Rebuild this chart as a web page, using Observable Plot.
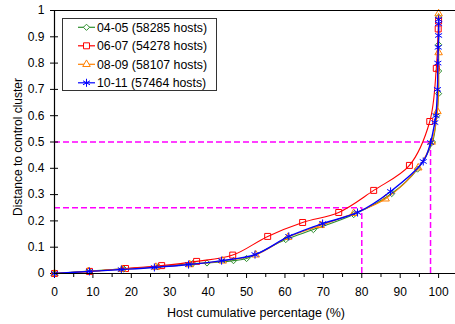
<!DOCTYPE html>
<html><head><meta charset="utf-8">
<script src="https://cdn.jsdelivr.net/npm/d3@7"></script>
<script src="https://cdn.jsdelivr.net/npm/@observablehq/plot@0.6"></script>
<style>body{margin:0;background:#fff;} svg{display:block;}</style>
</head><body><div id="chart"></div>
<script>
// ---- data ----
const seriesNames = ["04-05 (58285 hosts)", "06-07 (54278 hosts)", "08-09 (58107 hosts)", "10-11 (57464 hosts)"];
const seriesColors = ["#2f8f2f", "#ff0000", "#ff8000", "#0000ff"];
const seriesSymbols = ["diamond2", "square2", "triangle2", "asterisk"];
const seriesRadius = [2.8, 3.8, 3.6, 3.8];

const x0405 = [0, 9, 18, 27, 36, 39.7, 46.6, 50, 60.2, 67.4, 77.9, 87.8, 94.5, 98.4, 99.5, 100, 100, 100, 100];
const y0405 = [0, 0.009, 0.018, 0.026, 0.038, 0.040, 0.049, 0.057, 0.129, 0.167, 0.224, 0.304, 0.397, 0.50, 0.60, 0.684, 0.77, 0.87, 0.975];

const x0607 = [0, 9.1, 18.5, 27.9, 37, 46.4, 55.5, 64.6, 74, 83.1, 92.4, 97.7, 99.4, 99.9, 100];
const y0607 = [0, 0.008, 0.019, 0.030, 0.046, 0.070, 0.141, 0.194, 0.232, 0.316, 0.411, 0.578, 0.78, 0.93, 0.96];

const x0809 = [0, 8.8, 17.6, 26.4, 35.2, 43.8, 52.4, 60.8, 69.3, 77.9, 86.2, 94.7, 98.2, 99.7, 100, 100];
const y0809 = [0, 0.008, 0.016, 0.024, 0.034, 0.048, 0.071, 0.138, 0.183, 0.229, 0.284, 0.402, 0.50, 0.616, 0.84, 0.988];

const x1011 = [0, 9.1, 17.4, 26, 34.9, 43.5, 52.2, 61, 69.8, 78.9, 87.5, 96, 97.9, 99, 99.3, 99.7, 99.8, 99.9, 100, 100, 100];
const y1011 = [0, 0.008, 0.015, 0.023, 0.034, 0.049, 0.072, 0.141, 0.19, 0.232, 0.312, 0.426, 0.498, 0.574, 0.60, 0.70, 0.80, 0.86, 0.905, 0.95, 0.966];

const refX = [97.9, 80];
const refY = [0.5, 0.25];

const xTicks = [0, 10, 20, 30, 40, 50, 60, 70, 80, 90, 100];
const xMinorTicks = [5, 15, 25, 35, 45, 55, 65, 75, 85, 95];
const yTicks = [0, 0.1, 0.2, 0.3, 0.4, 0.5, 0.6, 0.7, 0.8, 0.9, 1];

const xLabel = "Host cumulative percentage (%)";
const yLabel = "Distance to control cluster";

// ---- build tables ----
const allX = [x0405, x0607, x0809, x1011];
const allY = [y0405, y0607, y0809, y1011];
const rows = [];
seriesNames.forEach((s, i) => allX[i].forEach((x, j) => rows.push({series: s, x, y: allY[i][j]})));
const refs = refX.map((x, i) => ({x, y: refY[i]}));

const font = "'Liberation Sans', Arial, sans-serif";
const magenta = "#ff00ff";

const seriesMarks = [];
seriesNames.forEach((s, i) => {
  const d = rows.filter(r => r.series === s);
  seriesMarks.push(Plot.line(d, {x: "x", y: "y", stroke: seriesColors[i], strokeWidth: i === 3 ? 1.4 : 1.1, curve: "catmull-rom"}));
  seriesMarks.push(Plot.dot(d, {x: "x", y: "y", symbol: seriesSymbols[i], r: seriesRadius[i], stroke: seriesColors[i], strokeWidth: 1, fill: "none"}));
});

const chart = Plot.plot({
  width: 455,
  height: 324,
  marginLeft: 54,
  marginRight: 0,
  marginTop: 10,
  marginBottom: 51,
  style: {fontFamily: font, fontSize: "12px", color: "black", background: "white", overflow: "visible"},
  x: {domain: [0, 104.4]},
  y: {domain: [0, 1]},
  marks: [
    Plot.ruleY(refs, {y: "y", x1: 0, x2: "x", stroke: magenta, strokeWidth: 1.5, strokeDasharray: "6,3"}),
    Plot.ruleX(refs, {x: "x", y1: 0, y2: "y", stroke: magenta, strokeWidth: 1.5, strokeDasharray: "6,3"}),
    Plot.axisY({ticks: yTicks, tickSize: 8, dx: 4, tickPadding: 6, tickFormat: d => String(d), label: null, stroke: "black", fill: "black"}),
    Plot.axisX({ticks: xTicks, tickSize: 5, tickPadding: 9, tickFormat: d => String(d), label: null, stroke: "black", fill: "black"}),
    Plot.axisX({ticks: xMinorTicks, tickSize: 4, tickFormat: () => "", label: null, stroke: "black"}),
    ...seriesMarks,
    Plot.ruleX([0], {stroke: "black", strokeWidth: 1.2}),
    Plot.ruleY([0], {stroke: "black", strokeWidth: 1.2}),
    Plot.ruleY([1], {stroke: "black", strokeWidth: 1.2})
  ]
});
document.getElementById("chart").appendChild(chart);

// ---- axis titles and legend ----
const svg = d3.select(chart);
svg.append("text").attr("x", 256).attr("y", 317).attr("text-anchor", "middle")
  .attr("font-family", font).attr("font-size", 12.5).attr("fill", "black").text(xLabel);
svg.append("text").attr("transform", "translate(21.5,147) rotate(-90)").attr("text-anchor", "middle")
  .attr("font-family", font).attr("font-size", 12).attr("fill", "black").text(yLabel);

const lg = svg.append("g");
lg.append("rect").attr("x", 62.5).attr("y", 18.5).attr("width", 154).attr("height", 72)
  .attr("fill", "white").attr("stroke", "#333").attr("stroke-width", 1);
const symMap = {diamond2: d3.symbolDiamond2, square2: d3.symbolSquare2, triangle2: d3.symbolTriangle2, asterisk: d3.symbolAsterisk};
seriesNames.forEach((s, i) => {
  const cy = 27.3 + i * 18.5;
  lg.append("line").attr("x1", 78).attr("x2", 95).attr("y1", cy).attr("y2", cy)
    .attr("stroke", seriesColors[i]).attr("stroke-width", 1.2);
  lg.append("path").attr("d", d3.symbol(symMap[seriesSymbols[i]], Math.PI * seriesRadius[i] ** 2)())
    .attr("transform", `translate(86.5,${cy})`).attr("fill", "white").attr("stroke", seriesColors[i]);
  lg.append("text").attr("x", 97).attr("y", cy + 4.3).attr("text-anchor", "start").attr("font-family", font).attr("font-size", 12.3)
    .attr("fill", "black").text(s);
});
</script>
</body></html>
